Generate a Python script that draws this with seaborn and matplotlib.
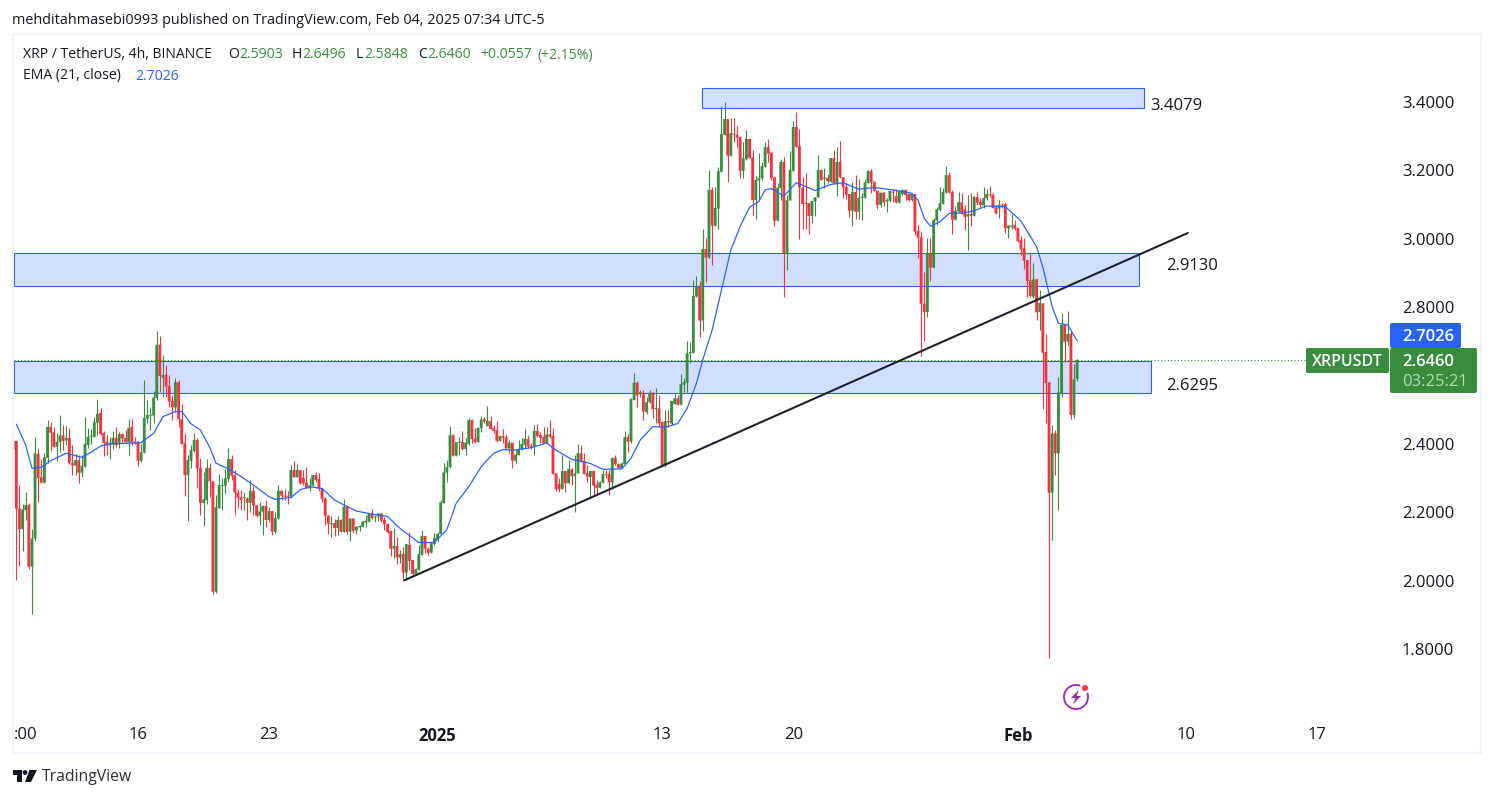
import matplotlib
matplotlib.use("Agg")
import matplotlib.pyplot as plt
import matplotlib.dates as mdates
from matplotlib.patches import Rectangle, FancyBboxPatch, Circle, Polygon, Arc
from matplotlib.transforms import Affine2D
import numpy as np
import pandas as pd
import seaborn as sns

opens = [
2.384,2.409,2.211,2.151,2.207,2.222,2.041,2.124,2.371,2.303,
2.287,2.359,2.450,2.434,2.392,2.406,2.425,2.410,2.418,2.345,
2.337,2.353,2.316,2.334,2.397,2.421,2.421,2.462,2.491,2.432,
2.407,2.396,2.400,2.418,2.404,2.429,2.418,2.406,2.450,2.407,
2.407,2.351,2.375,2.474,2.483,2.483,2.534,2.690,2.594,2.602,
2.570,2.526,2.507,2.581,2.472,2.402,2.309,2.351,2.380,2.412,
2.330,2.228,2.236,2.330,2.291,1.968,2.212,2.277,2.278,2.298,
2.356,2.309,2.258,2.244,2.242,2.241,2.228,2.263,2.221,2.190,
2.202,2.219,2.178,2.204,2.143,2.182,2.263,2.249,2.248,2.246,
2.324,2.303,2.324,2.301,2.287,2.270,2.278,2.309,2.298,2.270,
2.241,2.191,2.165,2.169,2.154,2.178,2.143,2.217,2.144,2.182,
2.147,2.156,2.158,2.170,2.173,2.195,2.185,2.188,2.197,2.178,
2.166,2.146,2.094,2.102,2.068,2.078,2.024,2.105,2.061,2.020,
2.032,2.076,2.131,2.094,2.082,2.108,2.121,2.137,2.227,2.316,
2.333,2.426,2.366,2.404,2.406,2.385,2.400,2.470,2.417,2.406,
2.446,2.472,2.453,2.467,2.447,2.441,2.409,2.423,2.420,2.387,
2.404,2.351,2.368,2.384,2.397,2.415,2.394,2.394,2.438,2.426,
2.421,2.402,2.428,2.423,2.314,2.283,2.269,2.321,2.285,2.326,
2.306,2.314,2.373,2.351,2.314,2.304,2.321,2.280,2.272,2.287,
2.312,2.312,2.288,2.359,2.341,2.329,2.341,2.420,2.407,2.529,
2.579,2.548,2.550,2.493,2.522,2.550,2.502,2.504,2.464,2.336,
2.467,2.460,2.517,2.534,2.515,2.573,2.579,2.665,2.667,2.831,
2.860,2.761,2.970,2.945,3.143,3.038,3.088,3.196,3.304,3.350,
3.243,3.305,3.304,3.298,3.199,3.233,3.292,3.238,3.113,3.170,
3.177,3.211,3.268,3.252,3.180,3.053,3.148,3.225,2.958,3.112,
3.199,3.327,3.271,3.150,3.104,3.104,3.067,3.109,3.121,3.201,
3.176,3.178,3.167,3.236,3.160,3.225,3.180,3.152,3.131,3.082,
3.137,3.079,3.120,3.120,3.163,3.198,3.167,3.141,3.099,3.135,
3.109,3.111,3.138,3.125,3.106,3.131,3.143,3.131,3.113,3.131,
3.023,3.004,2.810,2.786,2.957,2.916,3.053,3.084,3.102,3.135,
3.186,3.137,3.056,3.080,3.107,3.086,3.065,3.072,3.068,3.122,
3.108,3.098,3.118,3.128,3.129,3.092,3.088,3.099,3.101,3.031,
3.035,3.040,3.032,2.996,2.972,2.938,2.879,2.831,2.882,2.786,
2.811,2.669,2.580,2.258,2.431,2.373,2.548,2.748,2.699,2.722,
2.485,2.5903]
highs = [
2.446,2.409,2.280,2.225,2.259,2.228,2.151,2.420,2.387,2.355,
2.375,2.470,2.464,2.451,2.431,2.485,2.455,2.453,2.447,2.397,
2.370,2.368,2.368,2.479,2.448,2.443,2.479,2.533,2.505,2.437,
2.426,2.421,2.437,2.449,2.436,2.433,2.440,2.473,2.473,2.421,
2.410,2.400,2.587,2.529,2.507,2.555,2.730,2.716,2.660,2.631,
2.602,2.543,2.593,2.587,2.517,2.431,2.368,2.397,2.433,2.417,
2.358,2.319,2.355,2.344,2.293,2.251,2.312,2.300,2.326,2.387,
2.368,2.324,2.267,2.265,2.259,2.246,2.295,2.277,2.222,2.230,
2.222,2.236,2.217,2.204,2.202,2.280,2.266,2.267,2.263,2.339,
2.351,2.341,2.324,2.324,2.332,2.300,2.309,2.319,2.316,2.270,
2.246,2.191,2.189,2.182,2.189,2.180,2.239,2.219,2.185,2.183,
2.160,2.162,2.175,2.192,2.197,2.210,2.192,2.199,2.199,2.188,
2.168,2.146,2.154,2.129,2.090,2.100,2.107,2.143,2.061,2.036,
2.105,2.150,2.131,2.100,2.110,2.141,2.144,2.236,2.344,2.353,
2.453,2.428,2.406,2.421,2.439,2.417,2.476,2.472,2.446,2.451,
2.482,2.480,2.511,2.482,2.457,2.466,2.426,2.443,2.428,2.412,
2.404,2.382,2.412,2.417,2.444,2.426,2.402,2.455,2.458,2.434,
2.449,2.449,2.470,2.446,2.314,2.300,2.368,2.321,2.353,2.329,
2.368,2.400,2.397,2.373,2.339,2.321,2.321,2.295,2.293,2.324,
2.324,2.324,2.363,2.368,2.345,2.346,2.439,2.428,2.534,2.607,
2.584,2.558,2.558,2.538,2.558,2.553,2.565,2.543,2.467,2.499,
2.499,2.526,2.548,2.543,2.605,2.592,2.701,2.699,2.880,2.891,
2.877,3.028,3.001,3.201,3.151,3.151,3.211,3.388,3.400,3.350,
3.352,3.352,3.330,3.298,3.284,3.318,3.292,3.260,3.184,3.250,
3.226,3.284,3.292,3.252,3.180,3.162,3.232,3.240,3.128,3.257,
3.345,3.371,3.321,3.180,3.191,3.104,3.111,3.123,3.245,3.203,
3.206,3.190,3.236,3.260,3.267,3.286,3.180,3.164,3.131,3.167,
3.187,3.174,3.133,3.175,3.201,3.203,3.167,3.141,3.135,3.138,
3.118,3.140,3.145,3.145,3.143,3.145,3.145,3.133,3.135,3.131,
3.040,3.023,2.904,3.001,3.001,3.060,3.094,3.152,3.150,3.213,
3.196,3.143,3.096,3.138,3.133,3.099,3.128,3.133,3.125,3.138,
3.118,3.152,3.147,3.154,3.135,3.099,3.113,3.104,3.108,3.040,
3.072,3.055,3.033,3.008,3.001,2.938,2.957,2.928,2.882,2.850,
2.811,2.722,2.580,2.456,2.441,2.595,2.784,2.748,2.789,2.729,
2.634,2.6496]
lows = [
2.380,2.002,2.043,2.088,2.178,2.035,1.903,2.115,2.231,2.287,
2.287,2.344,2.380,2.392,2.351,2.378,2.382,2.397,2.342,2.309,
2.309,2.287,2.304,2.334,2.387,2.400,2.421,2.426,2.426,2.365,
2.368,2.357,2.386,2.392,2.389,2.404,2.404,2.368,2.397,2.400,
2.336,2.347,2.375,2.460,2.441,2.460,2.529,2.553,2.538,2.538,
2.509,2.470,2.495,2.451,2.400,2.248,2.175,2.329,2.378,2.270,
2.192,2.160,2.226,2.246,1.961,1.965,2.212,2.207,2.254,2.290,
2.295,2.192,2.212,2.207,2.207,2.178,2.202,2.192,2.188,2.163,
2.134,2.158,2.173,2.134,2.139,2.182,2.236,2.236,2.225,2.241,
2.303,2.303,2.282,2.280,2.270,2.264,2.277,2.290,2.264,2.231,
2.163,2.136,2.129,2.131,2.134,2.143,2.143,2.136,2.116,2.139,
2.136,2.147,2.156,2.158,2.173,2.181,2.173,2.176,2.173,2.150,
2.139,2.073,2.066,2.049,2.053,1.999,2.002,2.032,2.017,2.017,
2.032,2.076,2.080,2.075,2.080,2.105,2.114,2.137,2.227,2.290,
2.329,2.366,2.366,2.368,2.382,2.368,2.397,2.402,2.402,2.406,
2.436,2.460,2.453,2.443,2.431,2.407,2.409,2.402,2.387,2.375,
2.331,2.345,2.367,2.382,2.387,2.389,2.385,2.368,2.421,2.402,
2.402,2.402,2.419,2.312,2.264,2.261,2.269,2.261,2.285,2.280,
2.202,2.314,2.351,2.312,2.290,2.238,2.251,2.251,2.270,2.285,
2.300,2.251,2.268,2.339,2.329,2.329,2.339,2.378,2.402,2.529,
2.509,2.538,2.470,2.488,2.519,2.475,2.460,2.449,2.334,2.332,
2.449,2.455,2.517,2.514,2.515,2.553,2.553,2.638,2.667,2.831,
2.714,2.729,2.875,2.945,2.923,3.038,3.029,3.196,3.304,3.166,
3.243,3.284,3.269,3.178,3.177,3.230,3.235,3.070,3.058,3.113,
3.172,3.209,3.226,3.172,3.036,3.053,3.113,2.831,2.909,3.112,
3.199,3.269,3.000,3.030,3.028,3.014,3.045,3.067,3.121,3.172,
3.148,3.162,3.167,3.160,3.125,3.178,3.118,3.115,3.063,3.038,
3.057,3.057,3.055,3.118,3.162,3.133,3.140,3.086,3.094,3.097,
3.079,3.109,3.109,3.106,3.106,3.128,3.113,3.111,3.111,3.011,
2.945,2.658,2.702,2.772,2.877,2.916,3.040,3.082,3.102,3.135,
3.133,3.014,3.055,3.079,3.072,3.026,2.967,3.037,3.068,3.099,
3.094,3.089,3.113,3.123,3.089,3.072,3.060,3.089,3.016,3.001,
3.030,3.026,2.991,2.953,2.911,2.831,2.831,2.826,2.762,2.733,
2.502,2.462,1.775,2.119,2.309,2.207,2.538,2.641,2.690,2.473,
2.476,2.5848]
closes = [
2.409,2.211,2.151,2.209,2.221,2.041,2.124,2.373,2.300,2.287,
2.361,2.450,2.433,2.392,2.406,2.425,2.409,2.418,2.345,2.337,
2.353,2.316,2.336,2.400,2.421,2.423,2.464,2.488,2.429,2.404,
2.396,2.404,2.418,2.397,2.429,2.416,2.406,2.447,2.404,2.404,
2.351,2.376,2.476,2.485,2.485,2.536,2.690,2.599,2.602,2.568,
2.524,2.507,2.581,2.472,2.400,2.309,2.353,2.382,2.412,2.328,
2.228,2.238,2.330,2.291,1.968,2.215,2.280,2.279,2.300,2.356,
2.307,2.258,2.243,2.236,2.244,2.228,2.263,2.220,2.190,2.203,
2.219,2.178,2.204,2.144,2.183,2.263,2.249,2.246,2.246,2.324,
2.303,2.324,2.285,2.285,2.270,2.279,2.309,2.295,2.269,2.239,
2.190,2.166,2.166,2.154,2.178,2.144,2.217,2.143,2.182,2.146,
2.158,2.160,2.173,2.175,2.195,2.183,2.188,2.197,2.176,2.165,
2.142,2.094,2.102,2.068,2.078,2.024,2.107,2.058,2.020,2.034,
2.078,2.131,2.094,2.082,2.110,2.125,2.137,2.229,2.317,2.333,
2.426,2.366,2.406,2.406,2.385,2.404,2.470,2.415,2.406,2.447,
2.472,2.466,2.467,2.444,2.438,2.409,2.423,2.418,2.387,2.404,
2.351,2.369,2.384,2.400,2.415,2.392,2.392,2.438,2.423,2.418,
2.402,2.428,2.421,2.312,2.268,2.268,2.321,2.285,2.327,2.306,
2.314,2.373,2.351,2.312,2.304,2.321,2.278,2.272,2.288,2.312,
2.310,2.288,2.359,2.341,2.329,2.343,2.420,2.407,2.532,2.579,
2.542,2.550,2.495,2.522,2.550,2.502,2.504,2.460,2.336,2.467,
2.464,2.526,2.534,2.515,2.575,2.581,2.665,2.669,2.833,2.860,
2.761,2.970,2.945,3.143,3.038,3.090,3.198,3.306,3.350,3.243,
3.309,3.304,3.296,3.199,3.235,3.292,3.236,3.113,3.172,3.177,
3.213,3.268,3.249,3.178,3.053,3.150,3.225,2.958,3.113,3.201,
3.327,3.269,3.150,3.102,3.102,3.067,3.111,3.121,3.201,3.172,
3.178,3.169,3.236,3.162,3.225,3.180,3.150,3.129,3.082,3.137,
3.079,3.120,3.122,3.165,3.198,3.165,3.140,3.099,3.135,3.106,
3.113,3.140,3.135,3.106,3.138,3.143,3.128,3.113,3.131,3.021,
3.003,2.810,2.786,2.957,2.916,3.055,3.086,3.104,3.137,3.186,
3.135,3.056,3.082,3.107,3.074,3.064,3.072,3.067,3.123,3.106,
3.099,3.119,3.131,3.127,3.090,3.074,3.099,3.097,3.031,3.039,
3.039,3.030,2.993,2.969,2.936,2.877,2.833,2.881,2.785,2.812,
2.667,2.578,2.258,2.431,2.373,2.551,2.748,2.699,2.722,2.485,
2.589,2.6460]

ema_bars_back = [340,337,335,332,329,324,319,316,313,310,305,300,296,293,289,287,284,281,278,276,272,
                 268,264,259,257,252,249,246,242,238,235,231,226,221,217,211,206,
                 202,199,195,191,187,184,181,175,170,167,162,156,152,146,143,140,136,132,128,125,123,
                 122,120,117,114,111,108,105,102,100,98,94,90,87,84,79,75,70,65,59,53,
                 51,49,47,44,41,36,33,29,23,18,13,11,8,6,3,0]
ema_values = [2.458,2.397,2.329,2.332,2.351,2.373,2.361,2.376,2.394,2.400,2.402,2.404,2.431,2.480,2.495,2.495,2.459,2.441,2.390,2.344,2.327,
              2.305,2.280,2.246,2.238,2.244,2.266,2.275,2.270,2.236,2.222,2.204,2.195,2.188,2.153,2.112,2.112,
              2.150,2.227,2.275,2.334,2.373,2.384,2.382,2.389,2.403,2.382,2.355,2.343,2.326,2.327,2.358,2.412,2.451,2.449,2.460,2.504,2.553,
              2.578,2.646,2.733,2.850,2.967,3.036,3.092,3.109,3.143,3.147,3.125,3.164,3.153,3.141,3.159,3.164,3.145,3.150,3.143,3.133,
              3.113,3.060,3.037,3.050,3.074,3.076,3.082,3.096,3.094,3.052,2.977,2.918,2.801,2.753,2.748,2.7026]

zone_starts = [pd.Timestamp("2025-01-15 03:00"), None, None]
zone_ends = [pd.Timestamp("2025-02-07 18:00"), pd.Timestamp("2025-02-07 11:00"), pd.Timestamp("2025-02-08 03:00")]
zone_tops = [3.441, 2.958, 2.643]
zone_bottoms = [3.3825, 2.862, 2.549]
zone_labels = ["3.4079", "2.9130", "2.6295"]
trend_times = [pd.Timestamp("2024-12-30 06:00"), pd.Timestamp("2025-02-10 02:00")]
trend_prices = [2.002, 3.017]
y_ticks = [3.4, 3.2, 3.0, 2.8, 2.4, 2.2, 2.0, 1.8]
x_tick_dates = ["2024-12-10", "2024-12-16", "2024-12-23", "2025-01-01", "2025-01-13", "2025-01-20", "2025-02-01", "2025-02-10", "2025-02-17"]
x_tick_labels = [":00", "16", "23", "2025", "13", "20", "Feb", "10", "17"]
last_close = 2.6460
last_ema = 2.7026

GREEN = "#388e3c"
RED = "#f7323f"
BLUE = "#2962ff"
INK = "#131722"
FONT = ["Open Sans", "DejaVu Sans"]

sns.set_theme(style="white")
plt.rcParams["font.family"] = FONT

fig = plt.figure(figsize=(14.94, 7.98), dpi=100, facecolor="white")
px = Affine2D().scale(1, -1).translate(0, 798)

fig.add_artist(Rectangle((13, 34), 1468, 719, transform=px, fill=False, ec="#f0f3fa", lw=1.5))

ax = fig.add_axes([14 / 1494, 1 - 722 / 798, (1390 - 14) / 1494, (722 - 35) / 798])
ax.set_facecolor("none")
for s in ax.spines.values():
    s.set_visible(False)

bars = pd.DataFrame({"open": opens, "high": highs, "low": lows, "close": closes})
bars["time"] = pd.date_range(end="2025-02-04 04:00", periods=len(bars), freq="4h")
bars["up"] = bars["close"] >= bars["open"]
bars["color"] = np.where(bars["up"], GREEN, RED)

base = mdates.date2num(pd.Timestamp("2024-12-16"))
ax.set_xlim(base + (14 - 138) / 18.72, base + (1390 - 138) / 18.72)
ax.set_ylim(3.4 - (722 - 102) / 342, 3.4 + (102 - 35) / 342)

t = mdates.date2num(bars["time"])
ax.vlines(t, bars["low"], bars["high"], colors=bars["color"], lw=0.8, zorder=3)
body_low = bars[["open", "close"]].min(axis=1)
body_h = (bars["close"] - bars["open"]).abs().clip(lower=0.003)
rects = ax.bar(t, body_h, bottom=body_low, width=0.15, color=bars["color"], lw=0, zorder=4)
for r in rects:
    r.set_snap(False)

left = ax.get_xlim()[0]
for st, en, top, bot in zip(zone_starts, zone_ends, zone_tops, zone_bottoms):
    x0 = left if st is None else mdates.date2num(st)
    x1 = mdates.date2num(en)
    ax.add_patch(Rectangle((x0, bot), x1 - x0, top - bot, fc="#d1deff", ec=BLUE, lw=0.8, zorder=1))

ema = pd.DataFrame({"time": [bars["time"].iloc[-1 - b] for b in ema_bars_back], "ema": ema_values})
ema["time"] = mdates.date2num(ema["time"])
sns.lineplot(data=ema, x="time", y="ema", ax=ax, color=BLUE, lw=0.9, zorder=5, errorbar=None, sort=False)

ax.plot(mdates.date2num(trend_times), trend_prices, color="#1e222d", lw=1.5, zorder=6, solid_capstyle="round")
ax.hlines(last_close, left, base + (1306 - 138) / 18.72, colors=GREEN, lw=0.8, linestyles=(0, (1, 2)), zorder=2)

ax.set_xlabel("")
ax.set_ylabel("")
ax.yaxis.tick_right()
ax.set_yticks(y_ticks)
ax.set_yticklabels([f"{v:.4f}" for v in y_ticks], fontsize=12, color=INK)
ax.set_xticks(mdates.date2num(pd.to_datetime(x_tick_dates)))
ax.set_xticklabels(x_tick_labels, fontsize=12, color=INK)
for lab, txt in zip(ax.get_xticklabels(), x_tick_labels):
    if txt in ("2025", "Feb"):
        lab.set_fontweight("bold")
ax.tick_params(axis="y", length=0, pad=8.6)
ax.tick_params(axis="x", length=0, pad=3.4)

# zone annotations
for (x, y), lab in zip([(1150, 106.5), (1166, 266.5), (1166, 386.5)], zone_labels):
    fig.text(x, y, lab, transform=px, fontsize=12, color=INK, va="center", ha="left")

# header
fig.text(12, 21, "mehditahmasebi0993 published on TradingView.com, Feb 04, 2025 07:34 UTC-5",
         transform=px, fontsize=10.35, color=INK, va="center")
fig.text(23, 55, "XRP / TetherUS, 4h, BINANCE", transform=px, fontsize=10.1, color=INK, va="center")
for x, s, c in [(228, "O", INK), (239, "2.5903", GREEN), (292, "H", INK), (302, "2.6496", GREEN),
                (356, "L", INK), (364, "2.5848", GREEN), (418, "C", INK), (427, "2.6460", GREEN),
                (480, "+0.0557", GREEN), (538, "(+2.15%)", GREEN)]:
    fig.text(x, 55, s, transform=px, fontsize=10.1, color=c, va="center")
fig.text(23, 76, "EMA (21, close)", transform=px, fontsize=10.1, color=INK, va="center")
fig.text(135, 76, f"{last_ema:.4f}", transform=px, fontsize=10.1, color=BLUE, va="center")

# price badges
def badge(x, y, w, h, color):
    fig.add_artist(FancyBboxPatch((x + 1, y + 1), w - 2, h - 2, boxstyle="round,pad=1,rounding_size=2",
                                  transform=px, fc=color, ec="none", mutation_scale=1))
badge(1390, 323, 71, 25, BLUE)
badge(1306, 348, 83, 25, GREEN)
badge(1390, 348, 87, 45, GREEN)
fig.text(1402, 337, f"{last_ema:.4f}", transform=px, fontsize=12, color="white", va="center", fontweight="semibold")
fig.text(1347.5, 362, "XRPUSDT", transform=px, fontsize=11.5, color="white", va="center", ha="center", fontweight="semibold")
fig.text(1402, 362, f"{last_close:.4f}", transform=px, fontsize=12, color="white", va="center", fontweight="semibold")
fig.text(1402, 382, "03:25:21", transform=px, fontsize=12, color="#b9d8bb", va="center")

# lightning icon
fig.add_artist(Arc((1076, 697), 24, 24, theta1=-20, theta2=290, transform=px, color="#9c27b0", lw=1.3))
fig.add_artist(Polygon([(1079, 689.5), (1071, 698), (1075.5, 698), (1073, 704.5), (1081, 696), (1076.5, 696)],
                       closed=True, transform=px, fc="#9c27b0", ec="none"))
fig.add_artist(Circle((1085, 688), 3, transform=px, fc="#f23645", ec="none"))

# TradingView logo
fig.add_artist(Polygon([(13, 770), (22, 770), (22, 782), (17, 782), (17, 775), (13, 775)], closed=True,
                       transform=px, fc="#131722", ec="none"))
fig.add_artist(Circle((25, 772.5), 2.4, transform=px, fc="#131722", ec="none"))
fig.add_artist(Polygon([(29.5, 770), (37, 770), (31, 782), (25, 782)], closed=True, transform=px, fc="#131722", ec="none"))
fig.text(42, 777, "TradingView", transform=px, fontsize=11.3, color="#2a2e39", va="center")

fig.savefig("out.png", dpi=100, facecolor="white")
